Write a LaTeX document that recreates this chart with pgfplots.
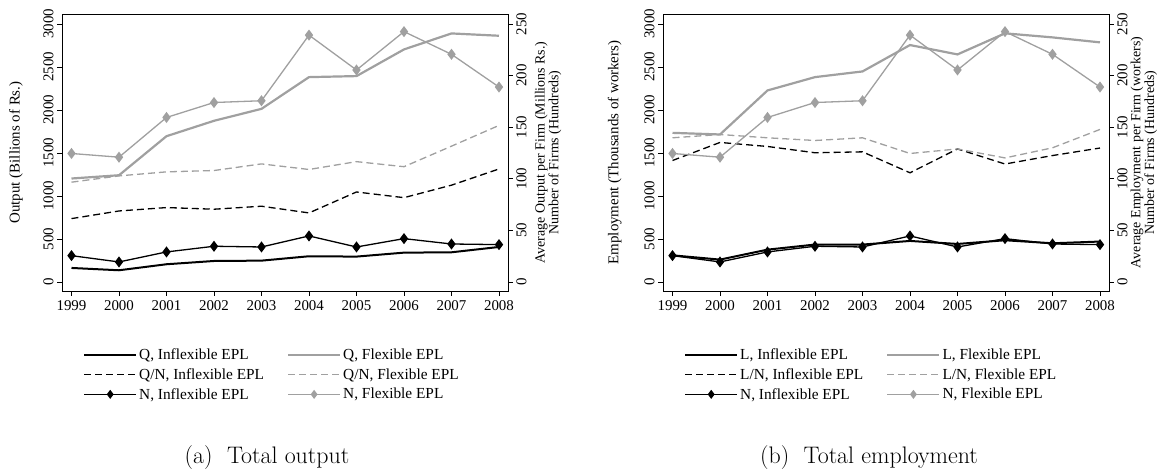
\documentclass[border=0pt]{standalone}
\usepackage{fontspec}
\newfontfamily\tms{Liberation Serif}
\usepackage{pgfplots}
\pgfplotsset{compat=1.18}

\definecolor{flexgray}{RGB}{160,160,160}

\pgfplotsset{
  base/.style={
    scale only axis, width=446bp, height=277bp,
    xmin=1998.8, xmax=2008.19,
    tick align=outside, major tick length=5bp,
    every tick/.style={black, line width=0.7pt},
    axis line style={line width=0.8pt},
    /pgf/number format/1000 sep={},
    /pgf/number format/assume math mode=true,
    tick label style={font=\tms\fontsize{15}{15}\selectfont},
    label style={font=\tms\fontsize{15}{16}\selectfont},
  },
  mainax/.style={base,
    ymin=-105, ymax=3116,
    xtick={1999,2000,...,2008}, xtick pos=bottom, ytick pos=left,
    xticklabel style={yshift=-1bp},
    ytick={0,500,...,3000},
    yticklabel style={rotate=90, anchor=south},
  },
  secax/.style={base,
    ymin=-8.75, ymax=259.667,
    axis x line=none, axis y line*=right,
    ytick={0,50,...,250},
    yticklabel style={rotate=90, anchor=north},
    ylabel style={font=\tms\fontsize{14}{12.5}\selectfont, align=center},
    legend columns=2, legend cell align=left,
    legend image code/.code={\draw[mark repeat=2,mark phase=2,#1] plot coordinates {(0bp,0bp) (26bp,0bp) (52bp,0bp)};},
    legend style={draw=none, fill=none, anchor=north west,
      font=\tms\fontsize{15.4}{16}\selectfont, row sep=3.5bp,
      /tikz/every even column/.append style={column sep=21bp}},
  },
  qinf/.style={black, line width=2bp, mark=none},
  qflex/.style={flexgray, line width=2.2bp, mark=none},
  qninf/.style={black, line width=1.3bp, dash pattern=on 7bp off 4bp, mark=none},
  qnflex/.style={flexgray, line width=1.3bp, dash pattern=on 7bp off 4bp, mark=none},
  ninf/.style={black, line width=1.3bp, mark=diamond*, mark size=4.5bp, mark options={solid}},
  nflex/.style={flexgray, line width=1.3bp, mark=diamond*, mark size=4.5bp, mark options={solid}},
}

% Panel (a): Q (billions Rs., left axis); Q/N (millions Rs.) and N (hundreds), right axis
\pgfplotstableread{
year Qinf Qflex QNinf QNflex Ninf Nflex
1999 163 1203 61.4 96.7 25.5 124.5
2000 136 1241 68.8 102.8 19.4 120.9
2001 206 1695 72.1 106.7 29.1 159.4
2002 244 1874 70.5 108.0 34.6 173.9
2003 248 2013 73.4 114.4 33.9 175.6
2004 299 2382 66.9 109.0 44.6 239.2
2005 295 2394 87.2 116.6 33.9 205.4
2006 341 2704 81.7 111.7 42.0 242.6
2007 345 2890 93.8 131.6 36.8 220.6
2008 407 2863 109.5 151.7 36.2 188.9
}\outputdata

% Panel (b): L (thousands, left axis); L/N (workers) and N (hundreds), right axis
\pgfplotstableread{
year Linf Lflex LNinf LNflex Ninf Nflex
1999 310 1734 117.7 139.7 25.5 124.5
2000 260 1715 135.2 142.9 19.4 120.9
2001 376 2227 131.3 139.7 29.1 159.4
2002 435 2382 125.2 137.1 34.6 173.9
2003 435 2448 126.1 139.7 33.9 175.6
2004 477 2755 105.8 124.5 44.6 239.2
2005 442 2646 128.9 128.9 33.9 205.4
2006 485 2891 114.3 120.2 42.0 242.6
2007 450 2844 122.5 130.0 36.8 220.6
2008 470 2786 129.8 147.8 36.2 188.9
}\employdata

\begin{document}
\begin{tikzpicture}
\useasboundingbox (0,0) rectangle (1160bp,470bp);

% ================= Panel (a) =================
\begin{axis}[mainax, at={(62bp,179bp)}, anchor=south west,
  ylabel={Output (Billions of Rs.)},
  ylabel style={at={(axis description cs:-0.103,0.5)}, anchor=center}]
  \addplot[qinf, forget plot] table[x=year, y=Qinf] {\outputdata};
  \addplot[qflex, forget plot] table[x=year, y=Qflex] {\outputdata};
\end{axis}
\begin{axis}[secax, at={(62bp,179bp)}, anchor=south west,
  ylabel={Average Output per Firm (Millions Rs.)\\Number of Firms (Hundreds)},
  ylabel style={at={(axis description cs:1.09,0.5)}, anchor=center},
  legend style={at={(axis description cs:0.0404,-0.193)}}]
  \addplot[qninf, forget plot] table[x=year, y=QNinf] {\outputdata};
  \addplot[qnflex, forget plot] table[x=year, y=QNflex] {\outputdata};
  \addplot[ninf, forget plot] table[x=year, y=Ninf] {\outputdata};
  \addplot[nflex, forget plot] table[x=year, y=Nflex] {\outputdata};
  \addlegendimage{qinf}\addlegendentry{Q, Inflexible EPL}
  \addlegendimage{qflex}\addlegendentry{Q, Flexible EPL}
  \addlegendimage{qninf}\addlegendentry{Q/N, Inflexible EPL}
  \addlegendimage{qnflex}\addlegendentry{Q/N, Flexible EPL}
  \addlegendimage{ninf, mark size=3.5bp}\addlegendentry{N, Inflexible EPL}
  \addlegendimage{nflex, mark size=3.5bp}\addlegendentry{N, Flexible EPL}
\end{axis}

% ================= Panel (b) =================
\begin{axis}[mainax, at={(663bp,179bp)}, anchor=south west,
  ylabel={Employment (Thousands of workers)},
  ylabel style={at={(axis description cs:-0.108,0.5)}, anchor=center}]
  \addplot[qinf, forget plot] table[x=year, y=Linf] {\employdata};
  \addplot[qflex, forget plot] table[x=year, y=Lflex] {\employdata};
\end{axis}
\begin{axis}[secax, at={(663bp,179bp)}, anchor=south west,
  ylabel={Average Employment per Firm (workers)\\Number of Firms (Hundreds)},
  ylabel style={at={(axis description cs:1.078,0.5)}, anchor=center},
  legend style={at={(axis description cs:0.0404,-0.193)}}]
  \addplot[qninf, forget plot] table[x=year, y=LNinf] {\employdata};
  \addplot[qnflex, forget plot] table[x=year, y=LNflex] {\employdata};
  \addplot[ninf, forget plot] table[x=year, y=Ninf] {\employdata};
  \addplot[nflex, forget plot] table[x=year, y=Nflex] {\employdata};
  \addlegendimage{qinf}\addlegendentry{L, Inflexible EPL}
  \addlegendimage{qflex}\addlegendentry{L, Flexible EPL}
  \addlegendimage{qninf}\addlegendentry{L/N, Inflexible EPL}
  \addlegendimage{qnflex}\addlegendentry{L/N, Flexible EPL}
  \addlegendimage{ninf, mark size=3.5bp}\addlegendentry{N, Inflexible EPL}
  \addlegendimage{nflex, mark size=3.5bp}\addlegendentry{N, Flexible EPL}
\end{axis}

% ================= Captions =================
\node[font=\fontsize{24}{28}\selectfont] at (267bp,12bp) {(a)\ \ Total output};
\node[font=\fontsize{24}{28}\selectfont] at (869bp,12bp) {(b)\ \ Total employment};
\end{tikzpicture}
\end{document}
